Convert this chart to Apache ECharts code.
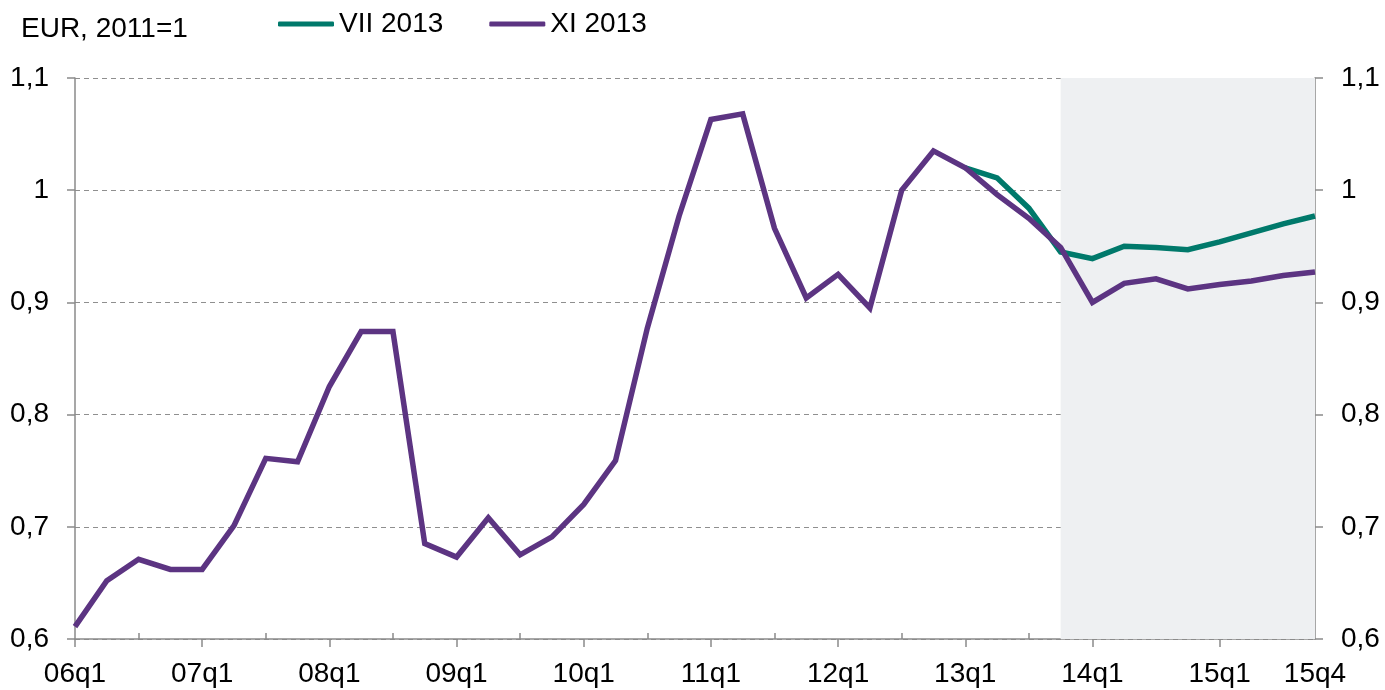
<!DOCTYPE html>
<html>
<head>
<meta charset="utf-8">
<script src="https://cdn.jsdelivr.net/npm/echarts@6/dist/echarts.min.js"></script>
<style>
	html, body { margin: 0; padding: 0; background: #fff; }
	#chart { width: 1385px; height: 690px; }
</style>
</head>
<body>
<div id="chart"></div>
<script>
	// quarters 06q1 .. 15q4
	const quarters = [];
	for (let y = 6; y <= 15; y++) {
		for (let q = 1; q <= 4; q++) {
			quarters.push((y < 10 ? '0' + y : '' + y) + 'q' + q);
		}
	}

	// XI 2013 forecast (purple)
	const xi2013 = [0.611, 0.652, 0.671, 0.662, 0.662, 0.701, 0.761, 0.758, 0.825, 0.874,
		0.874, 0.685, 0.673, 0.708, 0.675, 0.691, 0.720, 0.759, 0.877, 0.977,
		1.063, 1.068, 0.966, 0.904, 0.925, 0.895, 1.000, 1.035, 1.020, 0.996,
		0.975, 0.949, 0.900, 0.917, 0.921, 0.912, 0.916, 0.919, 0.924, 0.927];

	// VII 2013 forecast (teal), only differs from 13q1 on
	const vii2013 = [null, null, null, null, null, null, null, null, null, null,
		null, null, null, null, null, null, null, null, null, null,
		null, null, null, null, null, null, null, null, 1.020, 1.011,
		0.984, 0.945, 0.939, 0.950, 0.949, 0.947, 0.954, 0.962, 0.970, 0.977];

	const yTicks = [0.6, 0.7, 0.8, 0.9, 1.0, 1.1];
	const forecastFrom = '13q4';
	const forecastTo = '15q4';

	const font = 'Liberation Sans, Arial, sans-serif';
	const axisGray = '#8a8a8a';

	function fmt(v) {
		return (Math.round(v * 10) / 10).toString().replace('.', ',');
	}

	let myChart = echarts.init(document.getElementById('chart'));
	myChart.setOption({
		animation: false,
		backgroundColor: '#fff',
		title: {
			text: 'EUR, 2011=1',
			left: 16,
			top: 10,
			textStyle: { fontFamily: font, fontSize: 28, fontWeight: 'normal', color: '#000' }
		},
		legend: {
			left: 273,
			top: 5,
			itemWidth: 56,
			itemHeight: 5,
			itemGap: 46,
			icon: 'roundRect',
			data: ['VII 2013', 'XI 2013'],
			textStyle: { fontFamily: font, fontSize: 28, color: '#000' }
		},
		grid: { left: 75, right: 70, top: 78, bottom: 51 },
		xAxis: [{
			type: 'category',
			data: quarters,
			boundaryGap: false,
			position: 'bottom',
			axisLine: { lineStyle: { color: axisGray, width: 1.5 } },
			axisTick: {
				interval: function (i) { return i % 4 === 0; },
				length: 8,
				lineStyle: { color: axisGray, width: 1.5 }
			},
			axisLabel: {
				interval: function (i) { return i % 4 === 0 || i === quarters.length - 1; },
				margin: 21,
				fontFamily: font,
				fontSize: 28,
				color: '#000'
			},
			splitLine: { show: false }
		}, {
			type: 'category',
			data: quarters,
			boundaryGap: false,
			position: 'bottom',
			axisLine: { show: false },
			axisTick: {
				inside: true,
				interval: function (i) { return i % 4 === 2; },
				length: 6,
				lineStyle: { color: axisGray, width: 1.5 }
			},
			axisLabel: { show: false },
			splitLine: { show: false }
		}],
		yAxis: [{
			type: 'value',
			position: 'left',
			min: yTicks[0],
			max: yTicks[yTicks.length - 1],
			interval: 0.1,
			axisLine: { show: true, lineStyle: { color: axisGray, width: 1.5 } },
			axisTick: { show: true, length: 8, lineStyle: { color: axisGray, width: 1.5 } },
			axisLabel: { formatter: fmt, margin: 26, fontFamily: font, fontSize: 28, color: '#000' },
			splitLine: { show: true, lineStyle: { color: '#8f8f8f', type: [5, 4], width: 1 } }
		}, {
			type: 'value',
			position: 'right',
			min: yTicks[0],
			max: yTicks[yTicks.length - 1],
			interval: 0.1,
			axisLine: { show: true, lineStyle: { color: axisGray, width: 1.5 } },
			axisTick: { show: true, length: 8, lineStyle: { color: axisGray, width: 1.5 } },
			axisLabel: { formatter: fmt, margin: 26, fontFamily: font, fontSize: 28, color: '#000' },
			splitLine: { show: false }
		}],
		series: [{
			name: 'VII 2013',
			type: 'line',
			data: vii2013,
			symbol: 'none',
			color: '#00796b',
			lineStyle: { width: 5.5, color: '#00796b', join: 'miter', miterLimit: 4 },
			z: 3,
			markArea: {
				silent: true,
				itemStyle: { color: '#eef0f2' },
				data: [[{ xAxis: forecastFrom }, { xAxis: forecastTo }]]
			}
		}, {
			name: 'XI 2013',
			type: 'line',
			data: xi2013,
			symbol: 'none',
			color: '#5c3482',
			lineStyle: { width: 5.5, color: '#5c3482', join: 'miter', miterLimit: 4 },
			z: 4
		}]
	});
</script>
</body>
</html>
